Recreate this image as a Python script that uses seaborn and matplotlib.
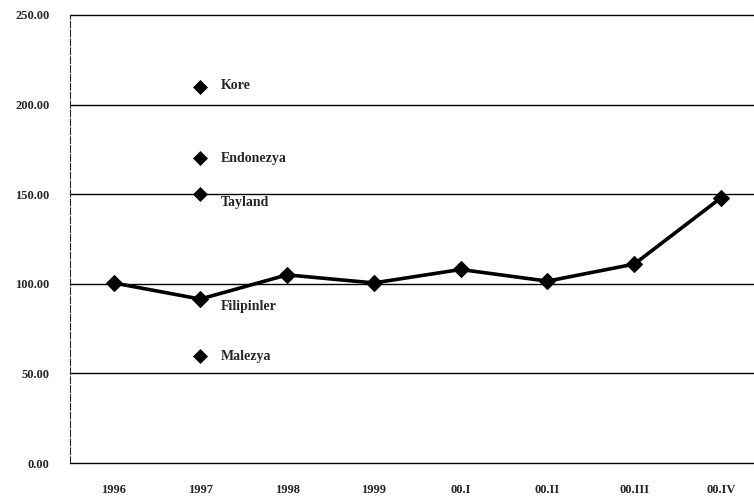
import pandas as pd
import seaborn as sns
from matplotlib import pyplot as plt

periods = ["1996", "1997", "1998", "1999", "00.I", "00.II", "00.III", "00.IV"]
turkey = [100.5, 91.5, 105.0, 100.5, 108.0, 101.5, 111.0, 148.0]

countries = ["Kore", "Endonezya", "Tayland", "Filipinler", "Malezya"]
country_values = [210.0, 170.0, 150.0, 91.5, 60.0]
country_period = "1997"

yticks = [0, 50, 100, 150, 200, 250]

sns.set_style("white")
plt.rcParams['font.family'] = ['Liberation Serif', 'DejaVu Serif']

main = pd.DataFrame({"period": periods, "value": turkey})
main["x"] = range(len(periods))
others = pd.DataFrame({"country": countries, "value": country_values})
others["x"] = periods.index(country_period)

fig = plt.figure(figsize=(7.54, 4.99), dpi=100)
ax = fig.add_axes([0.093, 0.072, 0.907, 0.898])

# horizontal grid lines
for y in yticks:
    ax.axhline(y, color="black", lw=1.0, zorder=1, clip_on=False)

sns.lineplot(x="x", y="value", data=main, color="black", lw=2.6,
             marker="D", markersize=8, markeredgecolor="black", ax=ax, zorder=3)
sns.scatterplot(x="x", y="value", data=others, color="black", marker="D",
                s=50, edgecolor="black", ax=ax, zorder=3)

# country labels next to the 1997 markers
offsets = {"Kore": 1, "Endonezya": 0, "Tayland": -6, "Filipinler": -5, "Malezya": -1}
for name, val in zip(countries, country_values):
    ax.annotate(name, (others["x"][0], val), xytext=(15, offsets[name]),
                textcoords="offset points", va="center", ha="left",
                fontsize=10, fontweight="bold")

ax.set_xlim(-0.5, 7.38)
ax.set_ylim(0, 250)
ax.set_xticks(range(len(periods)))
ax.set_xticklabels(periods, fontsize=9, fontweight="bold")
ax.set_yticks(yticks)
ax.set_yticklabels([f"{v:.2f}" for v in yticks], fontsize=9, fontweight="bold")
ax.tick_params(axis="x", length=0, pad=15)
ax.tick_params(axis="y", length=4, direction="inout", pad=13)
ax.set_xlabel("")
ax.set_ylabel("")
for s in ["top", "right", "bottom"]:
    ax.spines[s].set_visible(False)
ax.spines["left"].set_linestyle((0, (6, 2)))
ax.spines["left"].set_linewidth(0.8)

plt.savefig("out.png", dpi=100)
